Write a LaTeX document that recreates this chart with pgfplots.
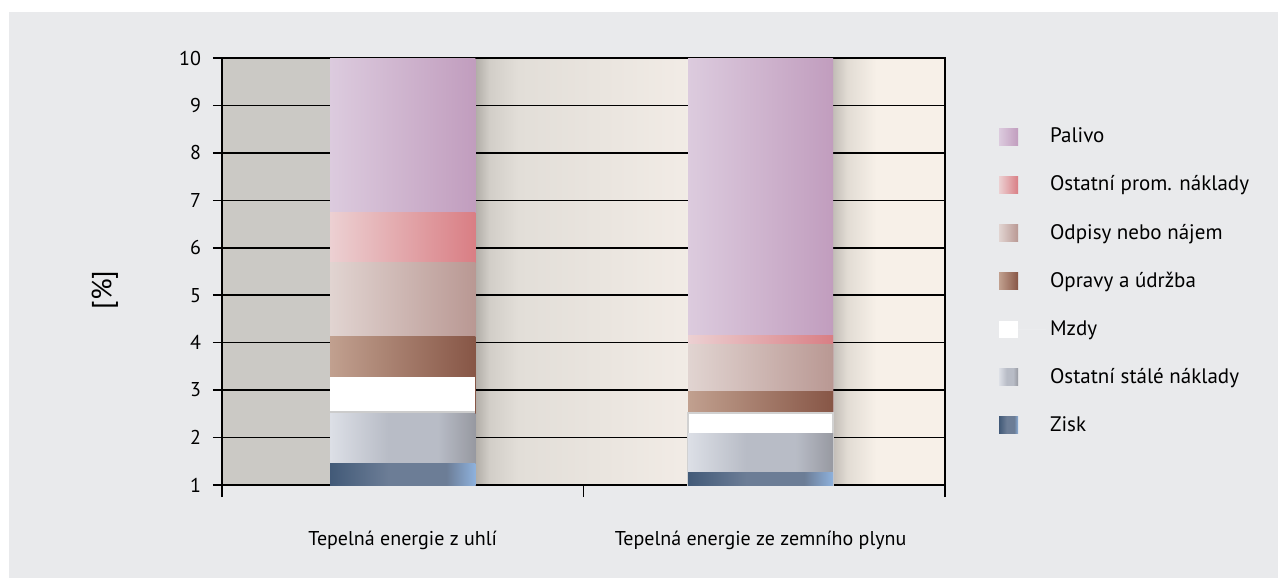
\documentclass[border=0pt]{standalone}
\usepackage{pgfplots}
\pgfplotsset{compat=1.18}
\usepackage{fontspec}
\setmainfont{PT Sans}

\definecolor{panel}{HTML}{E9EAEC}
\definecolor{bgleft}{HTML}{CBC9C5}
\definecolor{bgmidL}{HTML}{E2DED8}
\definecolor{bgmidR}{HTML}{F2ECE6}
\definecolor{bgright}{HTML}{F7F0E8}
\definecolor{shA}{HTML}{B0ACA6}
\definecolor{shB}{HTML}{D2CEC8}
\definecolor{shC}{HTML}{C2BDB7}
\definecolor{shD}{HTML}{E2DCD4}

\definecolor{palL}{HTML}{DCCBDE}\definecolor{palR}{HTML}{C19DBE}
\definecolor{proL}{HTML}{ECD0D2}\definecolor{proR}{HTML}{D97E84}
\definecolor{odpL}{HTML}{E1D4D1}\definecolor{odpR}{HTML}{B99893}
\definecolor{oprL}{HTML}{C1A08F}\definecolor{oprR}{HTML}{875646}
\definecolor{staL}{HTML}{DCDFE6}\definecolor{staM}{HTML}{B8BCC6}\definecolor{staR}{HTML}{9799A1}
\definecolor{zisL}{HTML}{425A78}\definecolor{zisM}{HTML}{6C7D96}\definecolor{zisR}{HTML}{8EB1DC}

% horizontal shadings, path is fitted to the 25bp..75bp band
\pgfdeclarehorizontalshading{palshade}{100bp}{color(0bp)=(palL); color(25bp)=(palL); color(75bp)=(palR); color(100bp)=(palR)}
\pgfdeclarehorizontalshading{proshade}{100bp}{color(0bp)=(proL); color(25bp)=(proL); color(75bp)=(proR); color(100bp)=(proR)}
\pgfdeclarehorizontalshading{odpshade}{100bp}{color(0bp)=(odpL); color(25bp)=(odpL); color(75bp)=(odpR); color(100bp)=(odpR)}
\pgfdeclarehorizontalshading{oprshade}{100bp}{color(0bp)=(oprL); color(25bp)=(oprL); color(75bp)=(oprR); color(100bp)=(oprR)}
\pgfdeclarehorizontalshading{stashade}{100bp}{color(0bp)=(staL); color(25bp)=(staL); color(45bp)=(staM); color(62bp)=(staM); color(75bp)=(staR); color(100bp)=(staR)}
\pgfdeclarehorizontalshading{zisshade}{100bp}{color(0bp)=(zisL); color(25bp)=(zisL); color(45bp)=(zisM); color(65bp)=(zisM); color(75bp)=(zisR); color(100bp)=(zisR)}
% plot area background: x=-0.5..1.5 maps to 25bp..75bp
\pgfdeclarehorizontalshading{bgshade}{100bp}{color(0bp)=(bgleft); color(37.5bp)=(bgleft); color(42.5bp)=(shA); color(43.5bp)=(shB); color(45.5bp)=(bgmidL); color(57.5bp)=(bgmidR); color(67.25bp)=(shC); color(68.25bp)=(shD); color(70.25bp)=(bgright); color(100bp)=(bgright)}

% bars overlap (no stacking): each value is the top of its segment
\pgfplotsset{seg/.style={shading=#1, draw=none}}

\begin{document}
\begin{tikzpicture}
\fill[white] (0,0) rectangle (641pt,289.5pt);
\fill[panel] (4.5pt,0.5pt) rectangle (639pt,283.5pt);
\begin{axis}[
    at={(111pt,47pt)}, anchor=south west,
    scale only axis, width=361.5pt, height=213.5pt,
    axis background/.style={shading=bgshade},
    ybar, bar width=72.5pt, bar shift=0pt,
    xmin=-0.5, xmax=1.5, ymin=1, ymax=10,
    xtick={0,0.99},
    xticklabels={Tepelná energie z uhlí, Tepelná energie ze zemního plynu},
    minor xtick={-0.5,0.5,1.5},
    ytick={1,...,10},
    xtick pos=bottom, ytick pos=left, tick align=outside,
    major tick length=4.5pt, minor tick length=6pt,
    major x tick style={draw=none},
    minor x tick style={black, line width=0.75pt},
    major y tick style={black, line width=0.75pt},
    axis line style={black, line width=0.75pt},
    ymajorgrids, grid style={black, line width=0.75pt},
    /pgf/number format/assume math mode=true,
    yticklabel style={font=\fontsize{10}{12}\selectfont, xshift=-2.5pt},
    xticklabel style={font=\fontsize{10}{12}\selectfont, yshift=-15pt},
    ylabel={[\%]},
    ylabel style={font=\fontsize{14}{16}\selectfont, at={(rel axis cs:-0.162,0.457)}, anchor=center},
    legend cell align=left,
    legend image code/.code={\path[draw=none] (0pt,0pt) -- (23.5pt,0pt); \fill[#1, draw=none] (0pt,-4.25pt) rectangle (9.5pt,4.25pt);},
    legend style={draw=none, fill=none, at={(rel axis cs:1.066,0.856)}, anchor=north west,
        font=\fontsize{10.5}{12}\selectfont, row sep=11pt},
]
\addplot[seg=palshade] coordinates {(0,10)};
\addplot[seg=palshade, forget plot] coordinates {(0.99,10)};
\addplot[seg=proshade] coordinates {(0,6.74)};
\addplot[seg=proshade, forget plot] coordinates {(0.99,4.15)};
\addplot[seg=odpshade] coordinates {(0,5.68)};
\addplot[seg=odpshade, forget plot] coordinates {(0.99,3.97)};
\addplot[seg=oprshade] coordinates {(0,4.14)};
\addplot[seg=oprshade, forget plot] coordinates {(0.99,2.98)};
\addplot[fill=white, draw=none] coordinates {(0,3.28)};
\addplot[fill=white, draw=black!18, line width=1.2pt, forget plot] coordinates {(0.99,2.52)};
% thin grey rule under the white segment of the coal bar
\addplot[fill=black!20, draw=none, forget plot] coordinates {(0,2.55)};
\addplot[seg=stashade] coordinates {(0,2.51)};
\addplot[seg=stashade, forget plot] coordinates {(0.99,2.09)};
\addplot[seg=zisshade] coordinates {(0,1.46)};
\addplot[seg=zisshade, forget plot] coordinates {(0.99,1.27)};
\legend{Palivo, Ostatní prom. náklady, Odpisy nebo nájem, Opravy a údržba, Mzdy, Ostatní stálé náklady, Zisk}
\end{axis}
\end{tikzpicture}
\end{document}
